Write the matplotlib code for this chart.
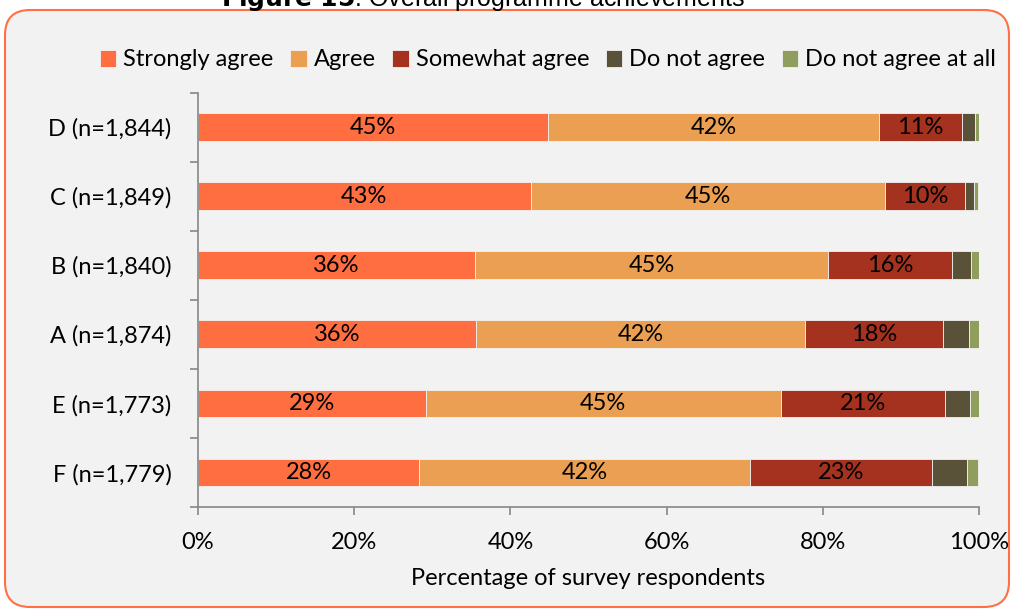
import numpy as np
import matplotlib
matplotlib.use('Agg')
import matplotlib.pyplot as plt
from matplotlib.patches import FancyBboxPatch

# --- DATA ---
categories = ['D (n=1,844)', 'C (n=1,849)', 'B (n=1,840)', 'A (n=1,874)', 'E (n=1,773)', 'F (n=1,779)']
responses = ['Strongly agree', 'Agree', 'Somewhat agree', 'Do not agree', 'Do not agree at all']
strongly_agree = [44.8, 42.6, 35.5, 35.6, 29.2, 28.3]
agree = [42.4, 45.4, 45.2, 42.1, 45.4, 42.4]
somewhat_agree = [10.6, 10.2, 15.8, 17.7, 21.1, 23.3]
do_not_agree = [1.7, 1.2, 2.5, 3.3, 3.2, 4.4]
do_not_agree_at_all = [0.5, 0.5, 1.0, 1.3, 1.1, 1.5]
x_ticks = [0, 20, 40, 60, 80, 100]

series = [strongly_agree, agree, somewhat_agree, do_not_agree, do_not_agree_at_all]
colors = ['#FF6E40', '#EB9F53', '#A5321F', '#5A5139', '#8F9E5C']
labelled = [True, True, True, False, False]

FONT = 'Lato'
FS = 17
plt.rcParams['font.family'] = [FONT, 'DejaVu Sans']

fig = plt.figure(figsize=(10.11, 6.10), dpi=100, facecolor='white')

# rounded frame
frame = FancyBboxPatch((0.05, 0.03), 10.04, 5.97, boxstyle='round,pad=0,rounding_size=0.25',
                       transform=fig.dpi_scale_trans, facecolor='#F2F2F2', edgecolor='#FF7043',
                       linewidth=1.5, zorder=-5)
fig.patches.append(frame)

# title, cut off at the top
fig.text(483 / 1011, 1 - 6 / 610, r'$\bf{Figure\ 15}$: Overall programme achievements',
         ha='center', va='baseline', fontsize=18, family='Liberation Sans', color='black')

ax = fig.add_axes([198 / 1011, 1 - 507 / 610, (979 - 198) / 1011, (507 - 92.5) / 610])
ax.set_facecolor('none')
ax.set_zorder(2)

y = np.arange(len(categories))
left = np.zeros(len(categories))
for vals, col, name, lab in zip(series, colors, responses, labelled):
    bars = ax.barh(y, vals, left=left, height=0.4, color=col, edgecolor='#F2F2F2',
                   linewidth=0.6, label=name)
    if lab:
        ax.bar_label(bars, labels=[f'{v:.0f}%' for v in vals], label_type='center',
                     fontsize=FS, color='black')
    left += np.array(vals)

ax.set_ylim(len(categories) - 0.5, -0.5)
ax.set_xlim(0, 100)
ax.set_yticks(y)
ax.set_yticklabels(categories, fontsize=FS)
ax.set_yticks(np.arange(-0.5, len(categories), 1), minor=True)
ax.tick_params(axis='y', which='major', length=0, pad=19)
ax.tick_params(axis='y', which='minor', length=6, color='#868686', width=1.2)
ax.set_xticks(x_ticks)
ax.set_xticklabels([f'{t}%' for t in x_ticks], fontsize=FS)
ax.tick_params(axis='x', length=6, color='#868686', width=1.2, pad=12)
ax.set_xlabel('Percentage of survey respondents', fontsize=FS, labelpad=11)

for s in ['top', 'right']:
    ax.spines[s].set_visible(False)
for s in ['left', 'bottom']:
    ax.spines[s].set_color('#868686')
    ax.spines[s].set_linewidth(1.2)

fig.legend(loc='center', bbox_to_anchor=(548 / 1011, 1 - 60 / 610), ncol=5, frameon=False,
           fontsize=17, handlelength=0.7, handleheight=0.7, handletextpad=0.3,
           columnspacing=0.7, borderaxespad=0)

fig.savefig('out.png', dpi=100, facecolor='white')
